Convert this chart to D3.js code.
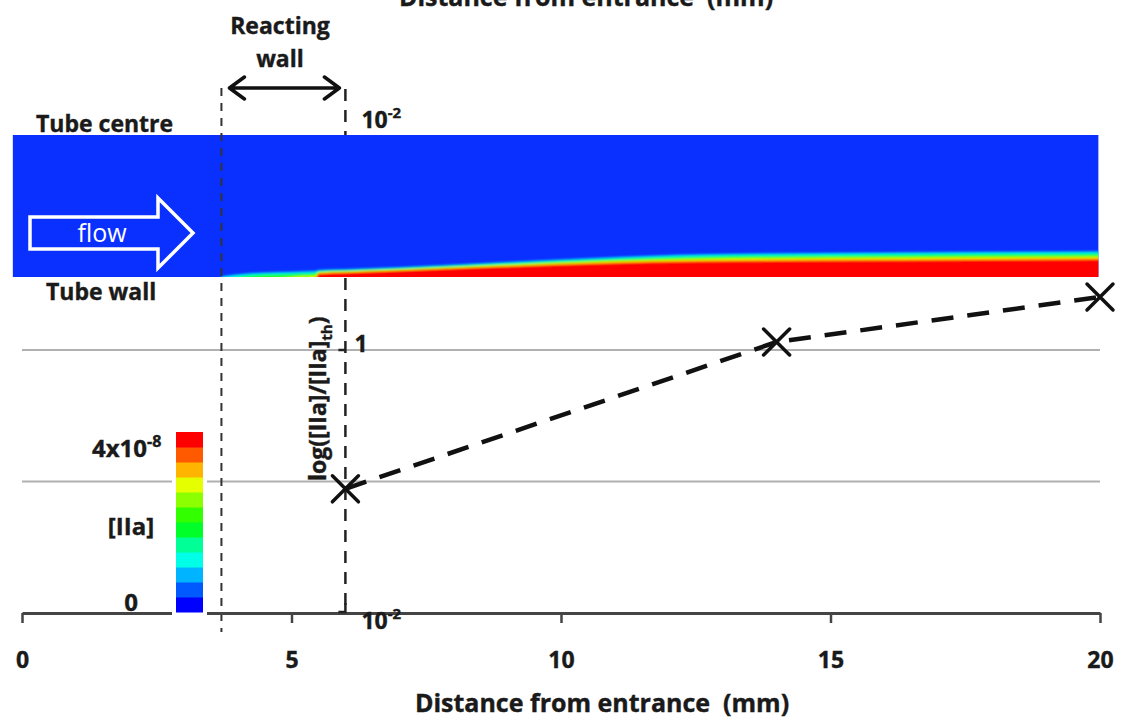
<!DOCTYPE html>
<html>
<head>
<meta charset="utf-8">
<script src="https://cdn.jsdelivr.net/npm/d3@7"></script>
<style>
  body { margin: 0; background: #fff; }
  svg { display: block; font-family: "Open Sans", Lato, sans-serif; }
  text { white-space: pre; }
</style>
</head>
<body>
<div id="chart"></div>
<script>
// x axis (mm)
const xTicks = [0, 5, 10, 15, 20];
// measured threshold ratio at three positions
const pointMM = [6, 14, 20];
const ratioVals = [0.088, 1.15, 2.53];
const gridVals = [0.1, 1];
// reacting wall segment (mm)
const reactWall = [3.7, 6];
// colour bar for [IIa]
const bandColors = ["#0000ff", "#005aff", "#00b4ff", "#00ffe6", "#00ff96", "#00ff28",
  "#32ff00", "#8cff00", "#e6ff00", "#ffb400", "#ff5a00", "#ff0000"];
const barRange = [0, 4e-8];
// boundary layer along the wall, thickness in % of tube radius
const wallMM = [3.7, 4.2, 5.2, 5.45, 5.5, 6, 7, 8.9, 10.7, 12.6, 16.3, 20];
const redTh = [0, 0, 0, 0, 2.1, 2.8, 4.2, 7, 9.2, 10.6, 11.3, 12];
const fringeTh = [0.5, 3.6, 5, 5.4, 5.4, 6, 7.4, 10.9, 14.3, 17, 18.4, 19.2];
const wallLvl = [0.35, 0.55, 0.75, 0.82, 1, 1, 1, 1, 1, 1, 1, 1];

const W = 1121, H = 721;
const x = d3.scaleLinear().domain([0, 20]).range([22, 1100]);
const y = d3.scaleLog().domain([0.01, 100]).range([613, 87]);
const r = d3.scaleLinear().domain([0, 100]).range([277, 135]);

const svg = d3.select("#chart").append("svg")
  .attr("width", W).attr("height", H);

const bold = (sel) => sel.attr("font-weight", 700).attr("fill", "#1a1a1a")
  .attr("stroke", "#1a1a1a").attr("stroke-width", 0.4);

// top (cropped) title
bold(svg.append("text").attr("x", 586).attr("y", 6)
  .attr("text-anchor", "middle").attr("font-size", 25))
  .text("Distance from entrance  (mm)");

// gridlines
svg.append("g").selectAll("line").data(gridVals).join("line")
  .attr("x1", x(0)).attr("x2", x(20))
  .attr("y1", (d) => y(d)).attr("y2", (d) => y(d))
  .attr("stroke", "#b0b0b0").attr("stroke-width", 2);

// y axis (dashed) at the end of the reacting wall
svg.append("line")
  .attr("x1", x(reactWall[1])).attr("x2", x(reactWall[1]))
  .attr("y1", y(100) + 2).attr("y2", y(0.01) + 2)
  .attr("stroke", "#222").attr("stroke-width", 2.5)
  .attr("stroke-dasharray", "12 9");

// tube
const tube = svg.append("g");
tube.append("rect")
  .attr("x", x(-0.17)).attr("y", r(100))
  .attr("width", x(19.97) - x(-0.17)).attr("height", r(0) - r(100))
  .attr("fill", "#0a30ff");

const defs = svg.append("defs");
defs.append("clipPath").attr("id", "tubeClip").append("rect")
  .attr("x", x(-0.17)).attr("y", r(100))
  .attr("width", x(19.97) - x(-0.17)).attr("height", r(0) - r(100));
defs.append("filter").attr("id", "soft").append("feGaussianBlur").attr("stdDeviation", 0.8);

const layer = wallMM.map((mm, i) => ({ mm, i }));
const area = d3.area().curve(d3.curveMonotoneX)
  .x((d) => x(d.mm)).y0(r(-3));
const field = tube.append("g").attr("clip-path", "url(#tubeClip)")
  .append("g").attr("filter", "url(#soft)");
for (let k = 1; k < bandColors.length; k++) {
  const lvl = k / (bandColors.length - 1);
  field.append("path")
    .datum(layer)
    .attr("fill", bandColors[k])
    .attr("d", area.y1((d) => {
      const i = d.i;
      if (lvl > wallLvl[i] + 1e-9) return r(-3);
      return r(redTh[i] + (fringeTh[i] - redTh[i]) * (1 - lvl / wallLvl[i]));
    }));
}

// flow arrow
const fy = 233;
tube.append("path")
  .attr("d", `M30,${fy - 16}H158V${fy - 35}L193,${fy}L158,${fy + 35}V${fy + 16}H30Z`)
  .attr("fill", "none").attr("stroke", "#fff").attr("stroke-width", 3.5)
  .attr("stroke-linejoin", "miter");
tube.append("text").attr("x", 102).attr("y", fy + 9)
  .attr("text-anchor", "middle").attr("font-size", 25).attr("fill", "#fff")
  .text("flow");

// reacting wall start line, over the tube
svg.append("line")
  .attr("x1", x(reactWall[0])).attr("x2", x(reactWall[0]))
  .attr("y1", 88).attr("y2", 632)
  .attr("stroke", "#333").attr("stroke-width", 2)
  .attr("stroke-dasharray", "8 7");

// double arrow
const ay = 88;
const ax0 = x(reactWall[0]) + 8, ax1 = x(reactWall[1]) - 6;
svg.append("path")
  .attr("d", `M${ax0},${ay}H${ax1}M${ax0 + 15},${ay - 11}L${ax0},${ay}L${ax0 + 15},${ay + 11}` +
    `M${ax1 - 15},${ay - 11}L${ax1},${ay}L${ax1 - 15},${ay + 11}`)
  .attr("fill", "none").attr("stroke", "#111").attr("stroke-width", 3.5)
  .attr("stroke-linecap", "round").attr("stroke-linejoin", "round");

bold(svg.append("text").attr("x", 280).attr("y", 34).attr("text-anchor", "middle")
  .attr("font-size", 23)).text("Reacting");
bold(svg.append("text").attr("x", 280).attr("y", 67).attr("text-anchor", "middle")
  .attr("font-size", 23)).text("wall");
bold(svg.append("text").attr("x", 36).attr("y", 132).attr("font-size", 23)).text("Tube centre");
bold(svg.append("text").attr("x", 46).attr("y", 300).attr("font-size", 23)).text("Tube wall");

// x axis
const xAxis = svg.append("g")
  .attr("transform", `translate(0,${y(0.01)})`)
  .call(d3.axisBottom(x).tickValues(xTicks).tickSize(10).tickSizeOuter(0).tickPadding(29));
xAxis.select(".domain").attr("stroke", "#444").attr("stroke-width", 3);
xAxis.selectAll(".tick line").attr("stroke", "#444").attr("stroke-width", 2.5);
bold(xAxis.selectAll(".tick text").attr("font-size", 23)
  .attr("font-family", "'Open Sans', sans-serif"));

bold(svg.append("text").attr("x", 602).attr("y", 712).attr("text-anchor", "middle")
  .attr("font-size", 25)).text("Distance from entrance  (mm)");

// y ticks / labels
const ax = x(reactWall[1]);
svg.append("path")
  .attr("d", `M${ax - 7},${y(1)}H${ax}M${ax - 7},${y(0.01) - 1}H${ax}V${y(0.01) - 10}`)
  .attr("stroke", "#222").attr("stroke-width", 2.5).attr("fill", "none");
const powLabel = (px, py, sup) => {
  const t = bold(svg.append("text").attr("x", px).attr("y", py).attr("font-size", 23));
  t.append("tspan").text("10");
  t.append("tspan").attr("dy", -10).attr("font-size", 15).text(sup);
  return t;
};
powLabel(ax + 16, 128, "-2");
powLabel(ax + 16, 629, "-2");
bold(svg.append("text").attr("x", ax + 9).attr("y", y(1) + 2).attr("font-size", 23)).text("1");

const yl = bold(svg.append("text")
  .attr("transform", `translate(${ax - 19},${(y(0.1) + y(1)) / 2 - 17}) rotate(-90)`)
  .attr("text-anchor", "middle").attr("font-size", 23));
yl.append("tspan").text("log([IIa]/[IIa]");
yl.append("tspan").attr("dy", 6).attr("font-size", 15).text("th");
yl.append("tspan").attr("dy", -6).text(")");

// colour bar
const cb = d3.scaleLinear().domain([0, bandColors.length]).range([612, 432]);
svg.append("rect").attr("x", 172).attr("y", 428).attr("width", 35).attr("height", 190)
  .attr("fill", "#fff");
svg.append("g").selectAll("rect").data(bandColors).join("rect")
  .attr("x", 176).attr("width", 27)
  .attr("y", (d, i) => cb(i + 1)).attr("height", cb(0) - cb(1) + 0.5)
  .attr("fill", (d) => d);
const [mant, expo] = barRange[1].toExponential(0).split("e");
const cbl = bold(svg.append("text").attr("x", 92).attr("y", 457).attr("font-size", 24));
cbl.append("tspan").text(mant + "x10");
cbl.append("tspan").attr("dy", -10).attr("font-size", 16).text(expo);
bold(svg.append("text").attr("x", 131).attr("y", 535).attr("text-anchor", "middle")
  .attr("font-size", 24)).text("[IIa]");
bold(svg.append("text").attr("x", 131).attr("y", 611).attr("text-anchor", "middle")
  .attr("font-size", 24)).text(String(barRange[0]));

// dashed series line with X markers
const pts = pointMM.map((mm, i) => [x(mm), y(ratioVals[i])]);
svg.append("path").attr("d", d3.line()(pts))
  .attr("fill", "none").attr("stroke", "#111").attr("stroke-width", 4.5)
  .attr("stroke-dasharray", "22 14");
const m = 13;
svg.append("g").selectAll("path").data(pts).join("path")
  .attr("d", ([px, py]) => `M${px - m},${py - m}L${px + m},${py + m}M${px - m},${py + m}L${px + m},${py - m}`)
  .attr("stroke", "#111").attr("stroke-width", 3.5).attr("stroke-linecap", "round");
</script>
</body>
</html>
